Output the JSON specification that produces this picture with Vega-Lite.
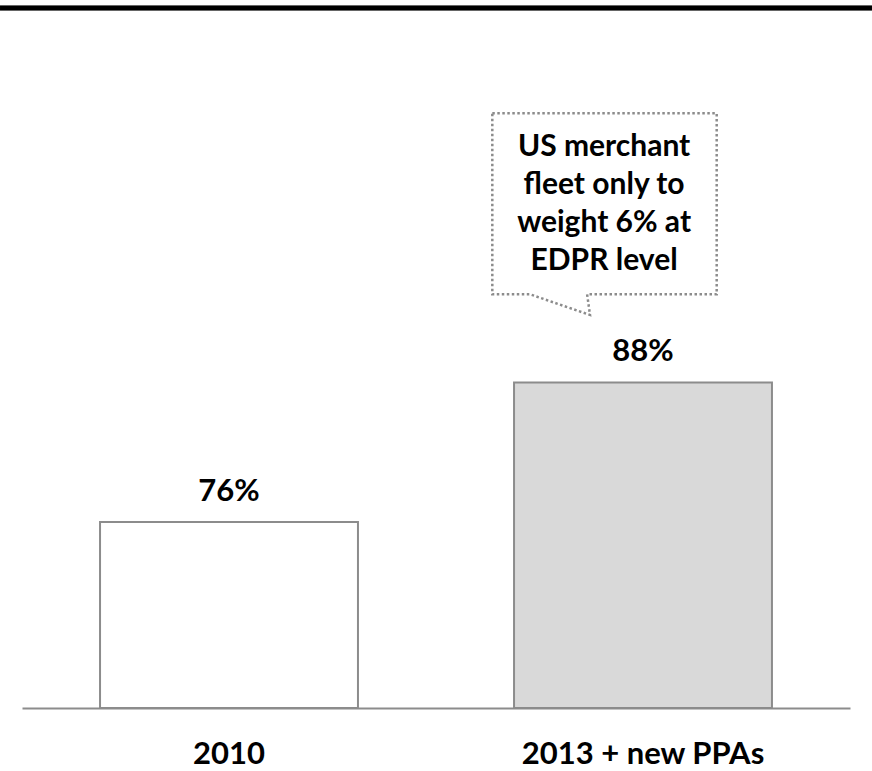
{
  "$schema": "https://vega.github.io/schema/vega-lite/v6.json",
  "width": 828,
  "height": 700,
  "autosize": {"type": "none"},
  "padding": {"left": 22, "top": 8, "right": 22, "bottom": 63},
  "background": "white",
  "config": {"view": {"stroke": null}, "font": "Lato"},
  "datasets": {
    "bars": [
      {"period": "2010", "share": 76, "label": "76%"},
      {"period": "2013 + new PPAs", "share": 88, "label": "88%"}
    ],
    "callout": [
      {"o": 1, "u": 1.136, "v": 111.14},
      {"o": 2, "u": 1.678, "v": 111.14},
      {"o": 3, "u": 1.678, "v": 95.58},
      {"o": 4, "u": 1.365, "v": 95.58},
      {"o": 5, "u": 1.372, "v": 93.8},
      {"o": 6, "u": 1.227, "v": 95.58},
      {"o": 7, "u": 1.136, "v": 95.58},
      {"o": 8, "u": 1.136, "v": 111.14}
    ],
    "note": [
      {"u": 1.406, "v": 107.47, "line": "US merchant"},
      {"u": 1.406, "v": 104.2, "line": "fleet only to"},
      {"u": 1.406, "v": 100.94, "line": "weight 6% at"},
      {"u": 1.406, "v": 97.67, "line": "EDPR level"}
    ],
    "topline": [{"u1": -0.0531, "u2": 2.0531, "v": 120.2}]
  },
  "resolve": {"scale": {"x": "independent"}, "axis": {"x": "independent"}},
  "layer": [
    {
      "data": {"name": "bars"},
      "layer": [
        {
          "mark": {"type": "bar", "stroke": "#8c8c8c", "strokeWidth": 2},
          "encoding": {
            "x": {
              "field": "period", "type": "nominal", "sort": null,
              "scale": {"paddingInner": 0.377, "paddingOuter": 0.1885},
              "axis": {
                "title": null, "ticks": false, "tickSize": 0, "labelAngle": 0, "labelLimit": 0,
                "labelFont": "Lato", "labelFontWeight": "bold", "labelFontSize": 31,
                "labelColor": "#000000", "labelBaseline": "alphabetic", "labelPadding": 55,
                "domainColor": "#8c8c8c", "domainWidth": 2, "grid": false
              }
            },
            "y": {"field": "share", "type": "quantitative", "scale": {"domain": [60, 120.2], "nice": false, "zero": false}, "axis": null},
            "y2": {"datum": 60},
            "fill": {"field": "period", "type": "nominal", "sort": null, "scale": {"range": ["#ffffff", "#d9d9d9"]}, "legend": null}
          }
        },
        {
          "mark": {"type": "text", "font": "Lato", "fontWeight": "bold", "fontSize": 31, "baseline": "alphabetic", "align": "center", "dy": -21, "color": "#000000"},
          "encoding": {
            "x": {"field": "period", "type": "nominal", "sort": null},
            "y": {"field": "share", "type": "quantitative", "scale": {"domain": [60, 120.2], "nice": false, "zero": false}, "axis": null},
            "text": {"field": "label"}
          }
        }
      ]
    },
    {
      "layer": [
        {
          "data": {"name": "callout"},
          "mark": {"type": "line", "stroke": "#8c8c8c", "strokeWidth": 2.5, "strokeDash": [2.5, 2.5]},
          "encoding": {
            "x": {"field": "u", "type": "quantitative", "scale": {"domain": [0, 2], "nice": false, "zero": false}, "axis": null},
            "y": {"field": "v", "type": "quantitative", "scale": {"domain": [60, 120.2], "nice": false, "zero": false}, "axis": null},
            "order": {"field": "o"}
          }
        },
        {
          "data": {"name": "note"},
          "mark": {"type": "text", "font": "Lato", "fontWeight": "bold", "fontSize": 30, "baseline": "alphabetic", "align": "center", "color": "#000000"},
          "encoding": {
            "x": {"field": "u", "type": "quantitative", "scale": {"domain": [0, 2], "nice": false, "zero": false}, "axis": null},
            "y": {"field": "v", "type": "quantitative", "scale": {"domain": [60, 120.2], "nice": false, "zero": false}, "axis": null},
            "text": {"field": "line"}
          }
        },
        {
          "data": {"name": "topline"},
          "mark": {"type": "rule", "color": "#666666", "strokeWidth": 6},
          "encoding": {
            "x": {"field": "u1", "type": "quantitative", "scale": {"domain": [0, 2], "nice": false, "zero": false}, "axis": null},
            "x2": {"field": "u2"},
            "y": {"field": "v", "type": "quantitative", "scale": {"domain": [60, 120.2], "nice": false, "zero": false}, "axis": null}
          }
        },
        {
          "data": {"name": "topline"},
          "mark": {"type": "rule", "color": "#000000", "strokeWidth": 4},
          "encoding": {
            "x": {"field": "u1", "type": "quantitative", "scale": {"domain": [0, 2], "nice": false, "zero": false}, "axis": null},
            "x2": {"field": "u2"},
            "y": {"field": "v", "type": "quantitative", "scale": {"domain": [60, 120.2], "nice": false, "zero": false}, "axis": null}
          }
        }
      ]
    }
  ]
}
